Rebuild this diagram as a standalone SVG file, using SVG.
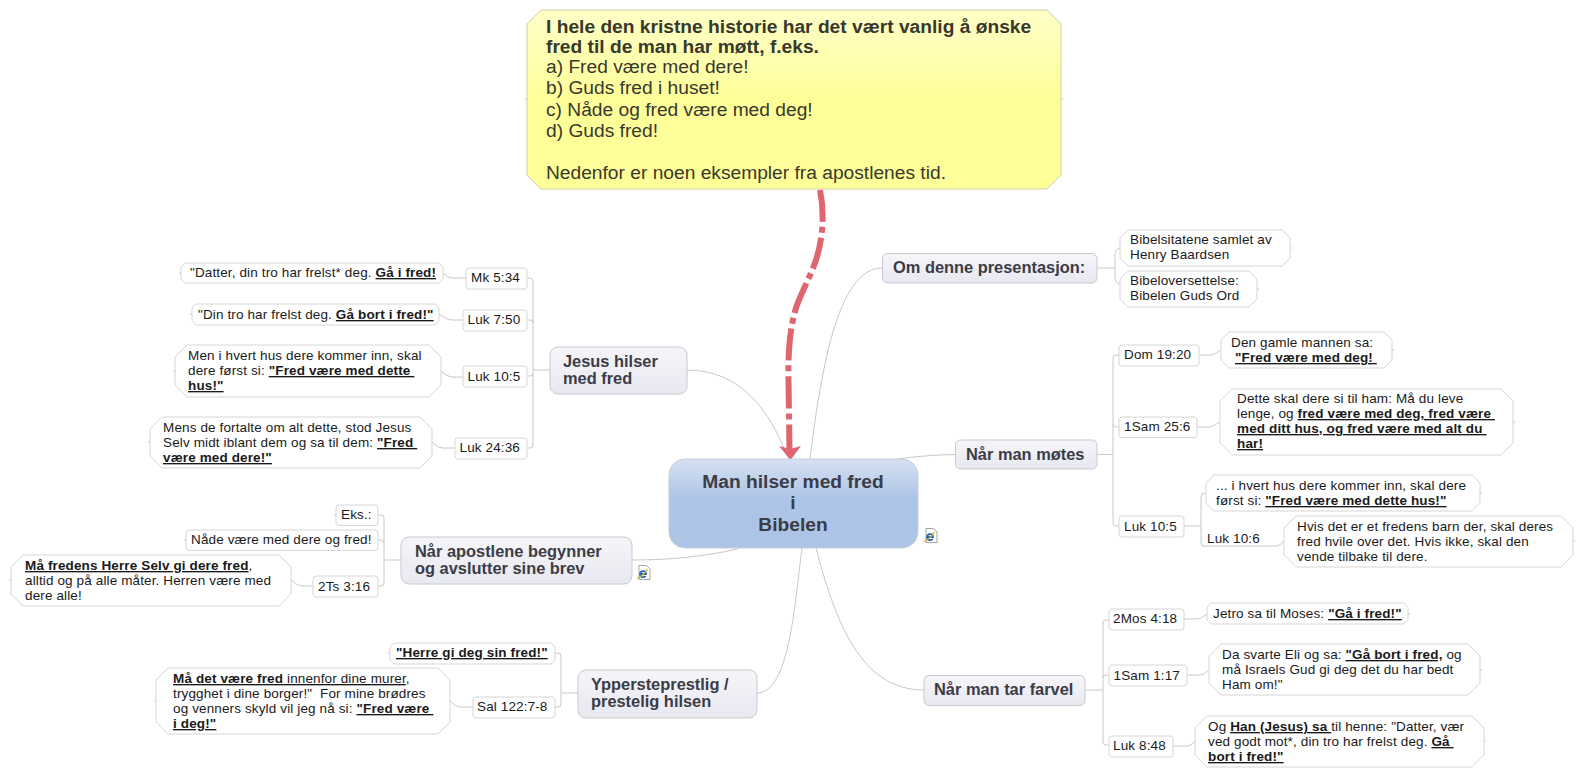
<svg xmlns="http://www.w3.org/2000/svg" width="1584" height="776" viewBox="0 0 1584 776">
<style>
text{font-family:"Liberation Sans",Arial,sans-serif;white-space:pre}
.t{font-size:13.500px;letter-spacing:0.130px;fill:#1a1a1a}
.m{font-size:16.400px;font-weight:bold;fill:#3c3c46}
.c{font-size:19.200px;font-weight:bold;fill:#3c3c46;text-anchor:middle}
.y{font-size:19.200px;fill:#38382e}
.b{font-weight:bold}
.u{font-weight:bold;text-decoration:underline;text-decoration-color:#555;text-decoration-thickness:1.500px}
.n{text-decoration:underline;text-decoration-color:#555}
.box{fill:#fff;stroke:#d6d6d6;stroke-width:1}
.main{fill:url(#gm);stroke:#c9c9cf;stroke-width:1}
.l{fill:none;stroke:#c8c8c8;stroke-width:1}
</style>
<defs>
<linearGradient id="gm" x1="0" y1="0" x2="0" y2="1"><stop offset="0" stop-color="#f5f5f9"/><stop offset="1" stop-color="#e8e8f1"/></linearGradient>
<linearGradient id="gc" x1="0" y1="0" x2="0" y2="1"><stop offset="0" stop-color="#d6e1f1"/><stop offset="0.45" stop-color="#adc4e6"/><stop offset="1" stop-color="#adc4e6"/></linearGradient>
<linearGradient id="gy" x1="0" y1="0" x2="0" y2="1"><stop offset="0" stop-color="#ffffc8"/><stop offset="0.5" stop-color="#ffff99"/><stop offset="1" stop-color="#ffff99"/></linearGradient>
<g id="ie"><path d="M2.500,0.500H10L13.500,4V14.500H2.500Z" fill="#fff" stroke="#8f8f8f" stroke-width="0.800"/><path d="M4,9H9.500C9.500,5.500 4,5 3.500,9C3.500,12.500 7.500,13 9.200,11" fill="none" stroke="#1f66c4" stroke-width="1.800"/><path d="M0.500,13.500C3,13 9,8 11,4" fill="none" stroke="#e0a820" stroke-width="1.200"/></g>
</defs>
<g id="connectors">
<path class="l" d="M810,459C822,360 840,268 882,268"/>
<path class="l" d="M788,458C770,410 740,370 687,370"/>
<path class="l" d="M897,459C920,456 935,455 955,454.500"/>
<path class="l" d="M738,549C700,557 670,560 632,560"/>
<path class="l" d="M802,548C795,600 790,693 757,693"/>
<path class="l" d="M816,548C835,620 860,690 924,690"/>
<path class="l" d="M550,370H533M527,278H530Q533,278 533,281V445Q533,448 530,448H527M527,320H530Q533,320 533,323M527,376H530Q533,376 533,373"/>
<path class="l" d="M466,278H452Q447,278 443,273M463,320H452Q447,320 439,314M463,377H452Q447,377 441,371M455,448H442Q438,448 432,442M181,273H179M192,314H190M175,371H173M150,442H148"/>
<path class="l" d="M401,560H384M378,515H381Q384,515 384,518V583Q384,586 381,586H378M378,540H381Q384,540 384,543M336,515H334M186,540H184M313,586H302Q298,586 291,580M11,580H9"/>
<path class="l" d="M578,693H561M555,653H558Q561,653 561,656V704Q561,707 558,707H555M473,707H460Q456,707 450,701M390,653H388M156,701H154"/>
<path class="l" d="M1097,268H1115M1120,248Q1115,249 1115,255V277Q1115,283 1120,284M1290,248H1292M1257,289H1259"/>
<path class="l" d="M1097,454.500H1113M1119,355H1116Q1113,355 1113,358V523Q1113,526 1116,526H1119M1119,427H1116Q1113,427 1113,424M1199,355H1210Q1214,355 1221,350M1197,427H1208Q1212,427 1220,422M1392,350H1394M1513,422H1515"/>
<path class="l" d="M1184,526H1201M1206,493H1205Q1201,493 1201,497V543Q1201,546 1204,546H1276Q1280,546 1284,541M1480,493H1482M1573,541H1575"/>
<path class="l" d="M1085,690H1103M1109,620H1106Q1103,620 1103,623V742Q1103,745 1106,745H1109M1109,675H1106Q1103,675 1103,678M1184,619H1197Q1201,619 1207,614M1187,675H1200Q1204,675 1209,670M1173,746H1187Q1191,746 1195,741M1408,614H1410M1480,670H1482M1484,741H1486"/>
<path d="M820,190C824,210 824,235 816,260C810,278 800,295 796,308C790,328 788,350 788.500,380L789.500,450" fill="none" stroke="#df6670" stroke-width="6" stroke-dasharray="32 5 6 5"/>
<path d="M779,446L790,449L801,446L790.500,460Z" fill="#df6670"/>
</g>
<g id="n-note"><path d="M541,10H1047L1061,24V175L1047,189H541L527,175V24Z" fill="url(#gy)" stroke="#cfcfa6"/><path class="l" d="M525,99H527M1061,99H1063"/>
<text class="y"><tspan x="546" y="33" class="b">I hele den kristne historie har det vært vanlig å ønske</tspan><tspan x="546" y="53" class="b">fred til de man har møtt, f.eks.</tspan><tspan x="546" y="73">a) Fred være med dere!</tspan><tspan x="546" y="94">b) Guds fred i huset!</tspan><tspan x="546" y="115.500">c) Nåde og fred være med deg!</tspan><tspan x="546" y="137">d) Guds fred!</tspan><tspan x="546" y="179">Nedenfor er noen eksempler fra apostlenes tid.</tspan></text></g>
<g id="n-center"><rect x="669" y="459" width="249" height="89" rx="16" fill="url(#gc)" stroke="#c4cede"/><text class="c"><tspan x="793" y="488">Man hilser med fred</tspan><tspan x="793" y="509">i</tspan><tspan x="793" y="531">Bibelen</tspan></text><use href="#ie" x="923.500" y="528"/></g>
<g id="n-om"><rect class="main" x="882.500" y="253.500" width="214.500" height="29.500" rx="5"/><text class="m" x="893" y="273">Om denne presentasjon:</text></g>
<g id="n-jesus"><rect class="main" x="550" y="347" width="137" height="47" rx="8"/><text class="m"><tspan x="563" y="367">Jesus hilser</tspan><tspan x="563" y="384">med fred</tspan></text></g>
<g id="n-apostlene"><rect class="main" x="401" y="537" width="231" height="47" rx="8"/><text class="m"><tspan x="415" y="557">Når apostlene begynner</tspan><tspan x="415" y="574">og avslutter sine brev</tspan></text><use href="#ie" x="636.500" y="565"/></g>
<g id="n-ypper"><rect class="main" x="578" y="670" width="179" height="48" rx="8"/><text class="m"><tspan x="591" y="690">Yppersteprestlig /</tspan><tspan x="591" y="707">prestelig hilsen</tspan></text></g>
<g id="n-motes"><rect class="main" x="955.500" y="440" width="141.500" height="29" rx="5"/><text class="m" x="966" y="460">Når man møtes</text></g>
<g id="n-farvel"><rect class="main" x="924" y="675.500" width="161" height="30" rx="5"/><text class="m" x="934" y="695">Når man tar farvel</text></g>

<g id="n-mk"><rect class="box" x="466" y="268" width="61" height="21" rx="3"/><text class="t" x="471" y="282">Mk 5:34</text></g>
<g id="n-datter"><path class="box" d="M185,263H439L443,267V279L439,283H185L181,279V267Z"/><text class="t" x="190" y="277">"Datter, din tro har frelst* deg. <tspan class="u">Gå i fred!</tspan></text></g>
<g id="n-luk750"><rect class="box" x="463" y="310" width="64" height="21" rx="3"/><text class="t" x="467.500" y="324">Luk 7:50</text></g>
<g id="n-din"><path class="box" d="M196,304H435L439,308V321L435,325H196L192,321V308Z"/><text class="t" x="198" y="319">"Din tro har frelst deg. <tspan class="u">Gå bort i fred!"</tspan></text></g>
<g id="n-luk105a"><rect class="box" x="463" y="366" width="64" height="21" rx="3"/><text class="t" x="467.500" y="381">Luk 10:5</text></g>
<g id="n-men"><path class="box" d="M187,345H429L441,357V385L429,397H187L175,385V357Z"/><text class="t"><tspan x="188" y="360">Men i hvert hus dere kommer inn, skal</tspan><tspan x="188" y="375">dere først si: <tspan class="u">"Fred være med dette </tspan></tspan><tspan x="188" y="390" class="u">hus!"</tspan></text></g>
<g id="n-luk2436"><rect class="box" x="455" y="438" width="72" height="21" rx="3"/><text class="t" x="459.500" y="452">Luk 24:36</text></g>
<g id="n-mens"><path class="box" d="M162,417H420L432,429V456L420,468H162L150,456V429Z"/><text class="t"><tspan x="163" y="432">Mens de fortalte om alt dette, stod Jesus</tspan><tspan x="163" y="447">Selv midt iblant dem og sa til dem: <tspan class="u">"Fred </tspan></tspan><tspan x="163" y="462" class="u">være med dere!"</tspan></text></g>

<g id="n-eks"><rect class="box" x="336" y="505" width="42" height="20.500" rx="3"/><text class="t" x="341" y="519">Eks.:</text></g>
<g id="n-nade"><rect class="box" x="186" y="530" width="192" height="20.500" rx="3"/><text class="t" x="191" y="544">Nåde være med dere og fred!</text></g>
<g id="n-2ts"><rect class="box" x="313" y="576" width="65" height="21" rx="3"/><text class="t" x="318" y="591">2Ts 3:16</text></g>
<g id="n-ma"><path class="box" d="M23,555H279L291,567V594L279,606H23L11,594V567Z"/><text class="t"><tspan x="25" y="570" class="u">Må fredens Herre Selv gi dere fred</tspan><tspan>,</tspan><tspan x="25" y="585">alltid og på alle måter. Herren være med</tspan><tspan x="25" y="600">dere alle!</tspan></text></g>
<g id="n-herre"><path class="box" d="M394,643H551L555,647V660L551,664H394L390,660V647Z"/><text class="t" x="396" y="657"><tspan class="u">"Herre gi deg sin fred!"</tspan></text></g>
<g id="n-sal"><rect class="box" x="473" y="697" width="82" height="21" rx="3"/><text class="t" x="477" y="711">Sal 122:7-8</text></g>
<g id="n-madet"><path class="box" d="M168,668H438L450,680V722L438,734H168L156,722V680Z"/><text class="t"><tspan x="173" y="683"><tspan class="u">Må det være fred</tspan><tspan class="n"> innenfor dine murer</tspan>,</tspan><tspan x="173" y="698">trygghet i dine borger!"  For mine brødres</tspan><tspan x="173" y="713">og venners skyld vil jeg nå si: <tspan class="u">"Fred være </tspan></tspan><tspan x="173" y="728" class="u">i deg!"</tspan></text></g>

<g id="n-bibelsit"><path class="box" d="M1128,230H1282L1290,238V258L1282,266H1128L1120,258V238Z"/><text class="t"><tspan x="1130" y="244">Bibelsitatene samlet av</tspan><tspan x="1130" y="259">Henry Baardsen</tspan></text></g>
<g id="n-bibelov"><path class="box" d="M1128,271H1249L1257,279V299L1249,307H1128L1120,299V279Z"/><text class="t"><tspan x="1130" y="285">Bibeloversettelse:</tspan><tspan x="1130" y="300">Bibelen Guds Ord</tspan></text></g>
<g id="n-dom"><rect class="box" x="1119" y="345" width="80" height="21" rx="3"/><text class="t" x="1124" y="359">Dom 19:20</text></g>
<g id="n-den"><path class="box" d="M1229,332H1384L1392,340V360L1384,368H1229L1221,360V340Z"/><text class="t"><tspan x="1231" y="347">Den gamle mannen sa:</tspan><tspan x="1235" y="362" class="u">"Fred være med deg! </tspan></text></g>
<g id="n-1sam256"><rect class="box" x="1119" y="417" width="78" height="20.500" rx="3"/><text class="t" x="1124" y="431">1Sam 25:6</text></g>
<g id="n-dette"><path class="box" d="M1232,389H1501L1513,401V443L1501,455H1232L1220,443V401Z"/><text class="t"><tspan x="1237" y="403">Dette skal dere si til ham: Må du leve</tspan><tspan x="1237" y="418">lenge, og <tspan class="u">fred være med deg, fred være </tspan></tspan><tspan x="1237" y="433" class="u">med ditt hus, og fred være med alt du </tspan><tspan x="1237" y="448" class="u">har!</tspan></text></g>
<g id="n-luk105b"><rect class="box" x="1119" y="516" width="65" height="21" rx="3"/><text class="t" x="1124" y="531">Luk 10:5</text></g>
<g id="n-ihvert"><path class="box" d="M1214,475H1472L1480,483V503L1472,511H1214L1206,503V483Z"/><text class="t"><tspan x="1216" y="490">... i hvert hus dere kommer inn, skal dere</tspan><tspan x="1216" y="505">først si: <tspan class="u">"Fred være med dette hus!"</tspan></tspan></text></g>
<g id="n-luk106"><text class="t" x="1207" y="543">Luk 10:6</text></g>
<g id="n-hvis"><path class="box" d="M1296,516H1561L1573,528V555L1561,567H1296L1284,555V528Z"/><text class="t"><tspan x="1297" y="531">Hvis det er et fredens barn der, skal deres</tspan><tspan x="1297" y="546">fred hvile over det. Hvis ikke, skal den</tspan><tspan x="1297" y="561">vende tilbake til dere.</tspan></text></g>
<g id="n-2mos"><rect class="box" x="1109" y="609" width="75" height="21" rx="3"/><text class="t" x="1113" y="623">2Mos 4:18</text></g>
<g id="n-jetro"><path class="box" d="M1211,603H1404L1408,607V620L1404,624H1211L1207,620V607Z"/><text class="t" x="1213" y="618">Jetro sa til Moses: <tspan class="u">"Gå i fred!"</tspan></text></g>
<g id="n-1sam117"><rect class="box" x="1109" y="665" width="78" height="21" rx="3"/><text class="t" x="1113.500" y="680">1Sam 1:17</text></g>
<g id="n-da"><path class="box" d="M1221,644H1468L1480,656V683L1468,695H1221L1209,683V656Z"/><text class="t"><tspan x="1222" y="659">Da svarte Eli og sa: <tspan class="u">"Gå bort i fred,</tspan> og</tspan><tspan x="1222" y="674">må Israels Gud gi deg det du har bedt</tspan><tspan x="1222" y="689">Ham om!"</tspan></text></g>
<g id="n-luk848"><rect class="box" x="1109" y="736" width="64" height="21" rx="3"/><text class="t" x="1113" y="750">Luk 8:48</text></g>
<g id="n-og"><path class="box" d="M1207,716H1472L1484,728V755L1472,767H1207L1195,755V728Z"/><text class="t"><tspan x="1208" y="731">Og <tspan class="u">Han (Jesus) sa </tspan>til henne: "Datter, vær</tspan><tspan x="1208" y="746">ved godt mot*, din tro har frelst deg. <tspan class="u">Gå </tspan></tspan><tspan x="1208" y="761" class="u">bort i fred!"</tspan></text></g>
</svg>
